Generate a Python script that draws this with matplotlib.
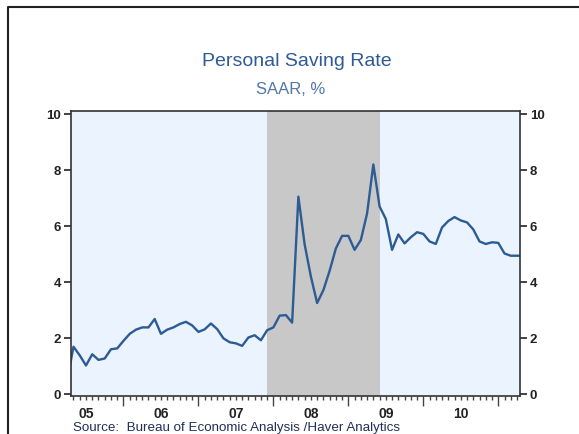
import matplotlib
matplotlib.use("Agg")
import matplotlib.pyplot as plt
from matplotlib.lines import Line2D
import numpy as np

# monthly personal saving rate, Apr 2005 .. May 2011 (SAAR, %)
start_year, start_month = 2005, 4
saving_rate = [
    0.5, 1.69, 1.38, 1.02, 1.42, 1.22, 1.27, 1.6, 1.63, 1.9,
    2.15, 2.3, 2.38, 2.38, 2.68, 2.15, 2.3, 2.38, 2.5, 2.58,
    2.45, 2.22, 2.31, 2.52, 2.32, 1.99, 1.85, 1.81, 1.72, 2.02,
    2.1, 1.92, 2.28, 2.38, 2.8, 2.82, 2.55, 7.05, 5.35, 4.2,
    3.25, 3.71, 4.4, 5.2, 5.65, 5.65, 5.15, 5.5, 6.45, 8.2,
    6.7, 6.25, 5.15, 5.7, 5.38, 5.6, 5.78, 5.72, 5.45, 5.36,
    5.95, 6.18, 6.32, 6.2, 6.13, 5.88, 5.45, 5.36, 5.42, 5.4,
    5.02, 4.94, 4.94, 4.94,
]
recession = (2007 + 11 / 12, 2009 + 5 / 12)
year_labels = ["05", "06", "07", "08", "09", "10"]
label_years = [2005, 2006, 2007, 2008, 2009, 2010]
y_ticks = [0, 2, 4, 6, 8, 10]

months = np.arange(len(saving_rate))
x = start_year + (start_month - 1 + months) / 12.0

fig = plt.figure(figsize=(5.79, 4.34), dpi=100)
plt.rcParams['font.family'] = ['Liberation Sans', 'DejaVu Sans']

ax = fig.add_axes([71 / 579, 38 / 434, 449 / 579, 285.3 / 434])
ax.set_facecolor('#EAF3FE')
ax.axvspan(recession[0], recession[1], color='#C8C8C8', lw=0, zorder=1)
ax.plot(x, saving_rate, color='#2D5B94', lw=1.7, zorder=3)

ax.set_xlim(2005.30, 2011.29)
ax.set_ylim(-0.07, 10.12)

ax.set_yticks(y_ticks)
ax.set_yticklabels([str(v) for v in y_ticks])
ax.tick_params(axis='y', which='both', left=True, right=True,
               labelleft=True, labelright=True, direction='out',
               length=5, width=1.2, labelsize=9.5, pad=2, colors='#222222')
for lbl in ax.get_yticklabels():
    lbl.set_fontweight('bold')

# year boundaries as major ticks, months as minor ticks
ax.set_xticks(range(2006, 2012))
ax.set_xticklabels([])
ax.set_xticks(np.arange(2005 + 4 / 12, 2011.3, 1 / 12), minor=True)
ax.tick_params(axis='x', which='major', direction='out', length=7,
               width=1.0, colors='#444444')
ax.tick_params(axis='x', which='minor', direction='out', length=3,
               width=1.0, colors='#444444')
for yr, lab in zip(label_years, year_labels):
    ax.text(yr + 0.5, -0.038, lab, transform=ax.get_xaxis_transform(),
            ha='center', va='top', fontsize=10, fontweight='bold',
            color='#222222')

for sp in ax.spines.values():
    sp.set_color('#333333')
    sp.set_linewidth(1.2)
    sp.set_zorder(4)

fig.text(297 / 579, 1 - 61 / 434, 'Personal Saving Rate', ha='center',
         va='center', fontsize=14, color='#2E5A95')
fig.text(291 / 579, 1 - 89 / 434, 'SAAR, %', ha='center', va='center',
         fontsize=12, color='#5078AA')
fig.text(73 / 579, 1 - 428 / 434,
         'Source:  Bureau of Economic Analysis /Haver Analytics',
         ha='left', va='center', fontsize=9.6, color='#1F2F55')

# outer frame (left and top edges)
fig.add_artist(Line2D([8 / 579, 8 / 579, 1], [0, 1 - 7 / 434, 1 - 7 / 434],
                      transform=fig.transFigure, color='#222222', lw=1.5))

fig.savefig('out.png', dpi=100)
